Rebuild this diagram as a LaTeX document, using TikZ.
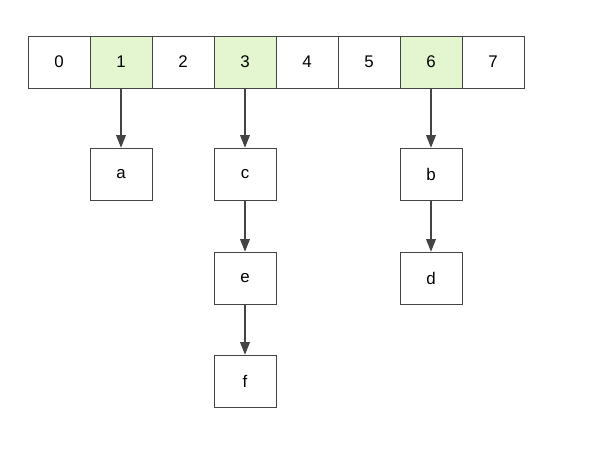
\documentclass[tikz,border=0pt]{standalone}
\usepackage{fontspec}
\setmainfont{Liberation Sans}
\usetikzlibrary{arrows.meta}
\definecolor{slotgreen}{HTML}{E4F6D0}
\definecolor{linegray}{HTML}{444444}
\begin{document}
\begin{tikzpicture}[
    x=0.025cm, y=-0.025cm,
    font=\large,
    slot/.style = {draw=linegray, fill=white, minimum width=1.55cm, minimum height=1.3cm, inner sep=0pt},
    used/.style = {slot, fill=slotgreen},
    item/.style = {draw=linegray, fill=white, minimum width=1.55cm, minimum height=1.3cm, inner sep=0pt},
    link/.style = {-{Triangle[width=7pt,length=9pt]}, draw=linegray, thick}
    ]
    \useasboundingbox (0,0) rectangle (600,452);

    % Bucket array
    \foreach \i in {0,...,7} {
        \node[slot] (slot \i) at (59+62*\i, 62) {\i};
    }
    \foreach \i in {1,3,6} {
        \node[used] (slot \i) at (59+62*\i, 62) {\i};
    }

    % Chained entries
    \node[item] (item a) at (121, 174) {a};
    \node[item] (item c) at (245, 174) {c};
    \node[item] (item e) at (245, 278) {e};
    \node[item] (item f) at (245, 381) {f};
    \node[item] (item b) at (431, 174) {b};
    \node[item] (item d) at (431, 278) {d};

    % Links
    \draw[link] (slot 1) -- (item a);
    \draw[link] (slot 3) -- (item c);
    \draw[link] (item c) -- (item e);
    \draw[link] (item e) -- (item f);
    \draw[link] (slot 6) -- (item b);
    \draw[link] (item b) -- (item d);
\end{tikzpicture}
\end{document}
